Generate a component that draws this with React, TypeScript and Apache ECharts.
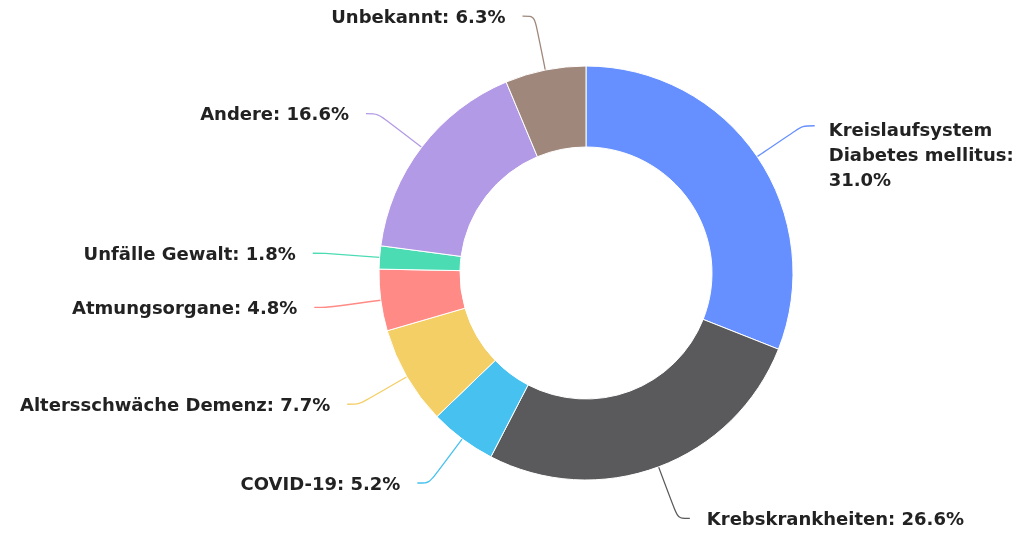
import React, { useEffect, useRef } from "react";
import * as echarts from "echarts";

const categories = [
  "Kreislaufsystem Diabetes mellitus",
  "Krebskrankheiten",
  "COVID-19",
  "Altersschwäche Demenz",
  "Atmungsorgane",
  "Unfälle Gewalt",
  "Andere",
  "Unbekannt",
];
const values = [31.0, 26.6, 5.2, 7.7, 4.8, 1.8, 16.6, 6.3];
const colors = ["#6690ff", "#5a5a5c", "#47c1f0", "#f4cf66", "#ff8a86", "#4cdcb4", "#b39ae6", "#a0877b"];

export default function App() {
  const ref = useRef<HTMLDivElement>(null);
  useEffect(() => {
    const chart = echarts.init(ref.current!, null, { renderer: "svg" });
    chart.setOption({
      animation: false,
      series: [
        {
          type: "pie",
          center: [586, 273],
          radius: [126, 207],
          startAngle: 90,
          clockwise: true,
          avoidLabelOverlap: false,
          data: categories.map((c, i) => ({
            name: c,
            value: values[i],
            itemStyle: { color: colors[i] },
            label: i === 0 ? { width: 205, overflow: "break" } : {},
          })),
          itemStyle: { borderColor: "#fff", borderWidth: 1 },
          label: {
            formatter: (p: any) => `${p.name}: ${p.value.toFixed(1)}%`,
            fontFamily: "DejaVu Sans",
            fontWeight: "bold",
            fontSize: 18,
            color: "#222",
            lineHeight: 25,
            distanceToLabelLine: 17,
          },
          labelLayout: (p: any) => (p.dataIndex === 0 ? { dy: 29, dx: -3 } : {}),
          labelLine: { length: 55, length2: 12, smooth: true, lineStyle: { width: 1.3 } },
        },
      ],
    });
    return () => chart.dispose();
  }, []);
  return <div ref={ref} style={{ position: "fixed", left: 0, top: 0, width: 1031, height: 536 }} />;
}
